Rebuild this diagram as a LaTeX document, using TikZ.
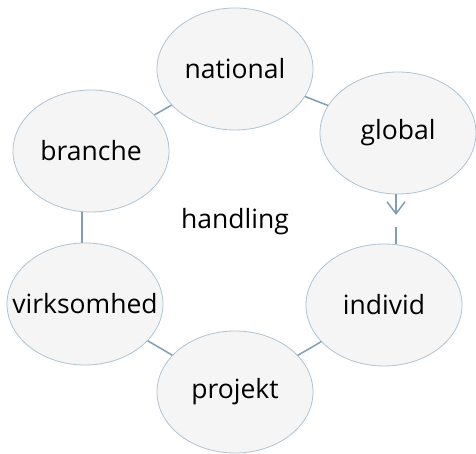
\documentclass[tikz,border=0pt]{standalone}
\usepackage{fontspec}
\setmainfont{Open Sans}
\usetikzlibrary{arrows.meta,shapes.geometric}
\definecolor{ellfill}{HTML}{F5F5F5}
\definecolor{elldraw}{HTML}{AFC3D2}
\definecolor{conn}{HTML}{7F9DB3}
\newcommand{\ztxt}[1]{\makebox[0pt]{#1}}
\tikzset{
  bubble/.style={ellipse, draw=elldraw, fill=ellfill, line width=0.8pt,
    minimum width=156pt, minimum height=122pt, inner sep=0pt,
    font=\fontsize{26.5}{30}\selectfont},
  link/.style={draw=conn, line width=1.5pt},
  lbl/.style={font=\fontsize{26.5}{30}\selectfont}
}
\begin{document}
\begin{tikzpicture}[x=1pt,y=1pt]
\useasboundingbox (0,0) rectangle (476,454);
\node[bubble] (national) at (235,385) {\ztxt{national}};
\node[bubble] (global) at (398,321) {\ztxt{global}};
\node[bubble] (individ) at (384,149) {\ztxt{individ}};
\node[bubble] (projekt) at (235,62) {\ztxt{projekt}};
\node[bubble] (virksomhed) at (85,150) {\ztxt{virksomhed}};
\node[bubble] (branche) at (91,303) {\ztxt{branche}};
\node[lbl] (handling) at (235,232) {handling};
\coordinate (tip) at (396,239);
\coordinate (stub) at (396,227);
\coordinate (bv) at (82,0);
\draw[link] (branche) -- (national);
\draw[link] (national) -- (global);
\draw[link, -{Straight Barb[length=12pt,width=18pt]}] (tip |- global.south) -- (tip);
\draw[link] (stub) -- (stub |- individ.north);
\draw[link] (individ) -- (projekt);
\draw[link] (projekt) -- (virksomhed);
\draw[link] (bv |- virksomhed.north) -- (bv |- branche.south);
\end{tikzpicture}
\end{document}
